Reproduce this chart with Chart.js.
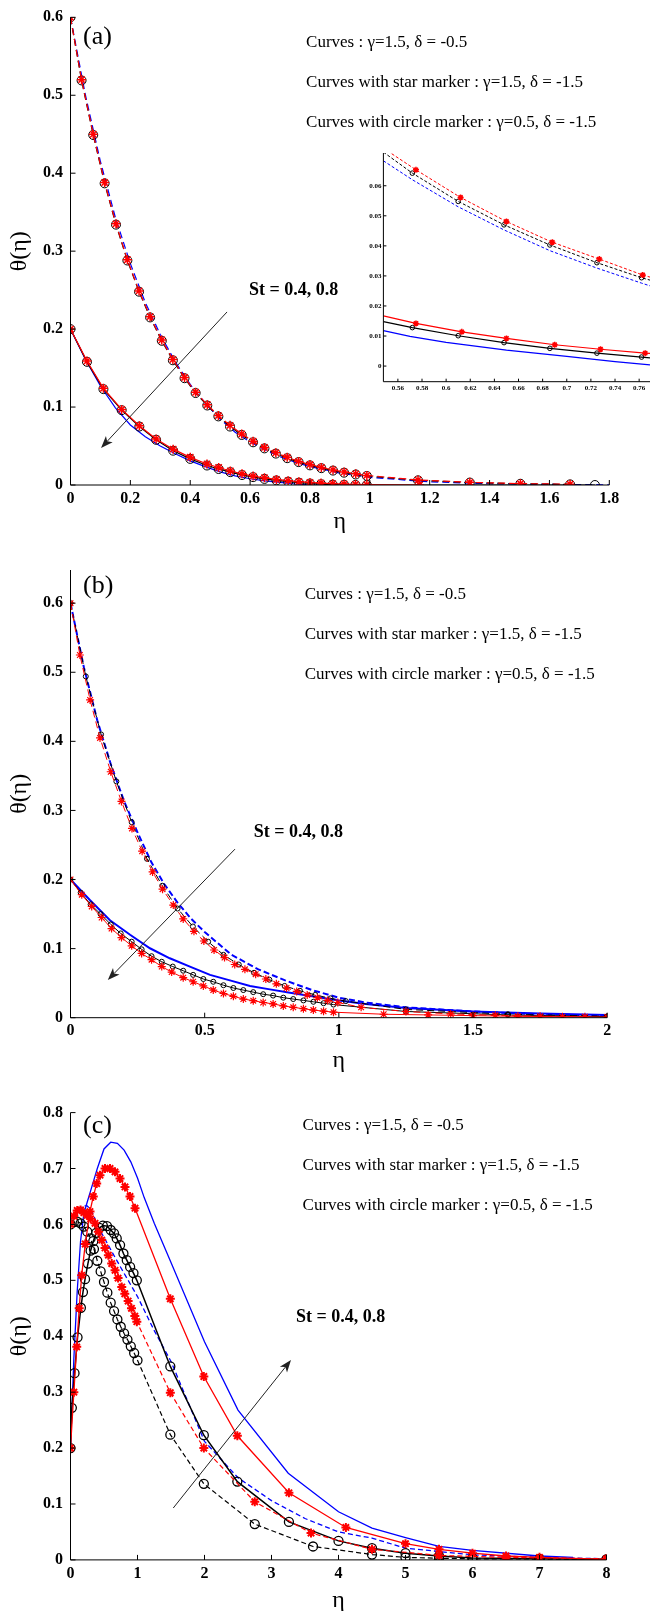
<!DOCTYPE html>
<html>
<head>
<meta charset="utf-8">
<script src="https://cdn.jsdelivr.net/npm/chart.js@4.4.1/dist/chart.umd.min.js"></script>
<style>
  html, body { margin: 0; padding: 0; background: #fff; }
  #page { position: relative; width: 650px; height: 1611px; overflow: hidden; background: #fff; }
  canvas { position: absolute; left: 0; }
</style>
</head>
<body>
<div id="page">
  <canvas id="chartA" width="650" height="540" style="top:0px"></canvas>
  <canvas id="chartInset" width="310" height="260" style="top:140px; left:340px"></canvas>
  <canvas id="chartB" width="650" height="540" style="top:540px"></canvas>
  <canvas id="chartC" width="650" height="531" style="top:1080px"></canvas>
</div>
<script>
// ---------- panel (a) ----------
const aXTicks = [0, 0.2, 0.4, 0.6, 0.8, 1, 1.2, 1.4, 1.6, 1.8];
const aYTicks = [0, 0.1, 0.2, 0.3, 0.4, 0.5, 0.6];

const aUpEta = [0, 0.037, 0.076, 0.114, 0.152, 0.190, 0.229, 0.266, 0.305, 0.342, 0.381, 0.418, 0.457, 0.494, 0.533, 0.572, 0.610, 0.648, 0.686, 0.724, 0.762, 0.800, 0.838, 0.877, 0.914, 0.953, 0.990, 1.161, 1.334, 1.503, 1.669];
const aUpRed = [0.600, 0.520, 0.450, 0.388, 0.335, 0.289, 0.249, 0.216, 0.186, 0.161, 0.138, 0.119, 0.103, 0.089, 0.0765, 0.0655, 0.0562, 0.0482, 0.0413, 0.0355, 0.0303, 0.0262, 0.0226, 0.0194, 0.0167, 0.0143, 0.0123, 0.0064, 0.0034, 0.0018, 0.0010];
const aUpBlack = [0.600, 0.519, 0.449, 0.387, 0.334, 0.288, 0.248, 0.215, 0.185, 0.160, 0.137, 0.118, 0.102, 0.088, 0.075, 0.0642, 0.0548, 0.0470, 0.0403, 0.0344, 0.0294, 0.0252, 0.0216, 0.0185, 0.0158, 0.0135, 0.0116, 0.0060, 0.0031, 0.0016, 0.0008];
const aUpBlueEta = [0, 0.05, 0.1, 0.15, 0.2, 0.25, 0.3, 0.35, 0.4, 0.45, 0.5, 0.55, 0.6, 0.65, 0.7, 0.75, 0.8, 0.9, 1.0, 1.2, 1.4, 1.6, 1.8];
const aUpBlue = [0.600, 0.500, 0.415, 0.343, 0.284, 0.234, 0.193, 0.158, 0.129, 0.105, 0.0845, 0.0676, 0.0553, 0.0450, 0.0363, 0.0293, 0.0236, 0.0152, 0.0098, 0.0040, 0.0016, 0.0007, 0.0003];

const aLowRedEta = [0, 0.055, 0.11, 0.171, 0.23, 0.286, 0.343, 0.4, 0.456, 0.495, 0.534, 0.573, 0.61, 0.648, 0.688, 0.727, 0.763, 0.8, 0.837, 0.876, 0.914, 0.952, 0.99, 1.166];
const aLowRed = [0.200, 0.159, 0.124, 0.097, 0.076, 0.059, 0.046, 0.0355, 0.027, 0.0225, 0.018, 0.0143, 0.0114, 0.0092, 0.0071, 0.0056, 0.0043, 0.0033, 0.0025, 0.0018, 0.0012, 0.0008, 0.0005, 0];
const aLowBlackEta = [0, 0.055, 0.11, 0.171, 0.23, 0.286, 0.343, 0.4, 0.456, 0.495, 0.534, 0.573, 0.61, 0.648, 0.688, 0.727, 0.763, 0.8, 0.837, 0.876, 0.914, 0.952, 0.99, 1.752];
const aLowBlack = [0.200, 0.158, 0.123, 0.096, 0.075, 0.058, 0.044, 0.0335, 0.025, 0.0205, 0.0165, 0.0128, 0.0101, 0.0078, 0.0059, 0.0043, 0.0030, 0.0019, 0.0011, 0.0005, 0.0002, 0.0001, 0, 0];
const aLowBlueEta = [0, 0.05, 0.1, 0.15, 0.2, 0.25, 0.3, 0.35, 0.4, 0.45, 0.5, 0.55, 0.6, 0.65, 0.7, 0.75, 0.8, 0.9, 1.0];
const aLowBlue = [0.200, 0.161, 0.127, 0.099, 0.077, 0.062, 0.050, 0.040, 0.031, 0.0235, 0.0168, 0.0118, 0.0080, 0.0053, 0.0033, 0.0013, 0.0002, 0, 0];

// ---------- inset of panel (a) ----------
const inXTicks = [0.56, 0.58, 0.6, 0.62, 0.64, 0.66, 0.68, 0.7, 0.72, 0.74, 0.76];
const inYTicks = [0, 0.01, 0.02, 0.03, 0.04, 0.05, 0.06];
const inUpRedEta = [0.548, 0.575, 0.612, 0.650, 0.688, 0.727, 0.763, 0.769];
const inUpRed = [0.0725, 0.0653, 0.0561, 0.0481, 0.0412, 0.0356, 0.0303, 0.0296];
const inUpBlackEta = [0.548, 0.572, 0.610, 0.648, 0.686, 0.725, 0.762, 0.769];
const inUpBlack = [0.0712, 0.0642, 0.0548, 0.0470, 0.0403, 0.0344, 0.0294, 0.0286];
const inUpBlueEta = [0.548, 0.572, 0.610, 0.648, 0.686, 0.725, 0.762, 0.769];
const inUpBlue = [0.0683, 0.0620, 0.0530, 0.0453, 0.0384, 0.0326, 0.0276, 0.0267];
const inLowRedEta = [0.548, 0.575, 0.613, 0.650, 0.690, 0.728, 0.765, 0.769];
const inLowRed = [0.0167, 0.0142, 0.0114, 0.0092, 0.0071, 0.0056, 0.0043, 0.0042];
const inLowBlackEta = [0.548, 0.572, 0.610, 0.648, 0.686, 0.725, 0.762, 0.769];
const inLowBlack = [0.0148, 0.0128, 0.0101, 0.0078, 0.0059, 0.0043, 0.0030, 0.0027];
const inLowBlueEta = [0.548, 0.570, 0.600, 0.650, 0.700, 0.740, 0.769];
const inLowBlue = [0.0118, 0.0099, 0.0079, 0.0053, 0.0032, 0.0015, 0.0004];

// ---------- panel (b) ----------
const bXTicks = [0, 0.5, 1, 1.5, 2];
const bYTicks = [0, 0.1, 0.2, 0.3, 0.4, 0.5, 0.6];
const bUpRedEta = [0, 0.035, 0.073, 0.11, 0.15, 0.19, 0.229, 0.267, 0.306, 0.343, 0.383, 0.42, 0.46, 0.497, 0.535, 0.574, 0.612, 0.65, 0.69, 0.728, 0.767, 0.805, 0.843, 0.882, 0.92, 0.958, 0.996, 1.083, 1.25, 1.417, 1.583, 1.75, 1.917];
const bUpRed = [0.600, 0.525, 0.460, 0.405, 0.356, 0.313, 0.274, 0.241, 0.211, 0.186, 0.163, 0.143, 0.125, 0.111, 0.098, 0.087, 0.077, 0.070, 0.063, 0.056, 0.049, 0.043, 0.038, 0.033, 0.029, 0.025, 0.022, 0.015, 0.009, 0.0055, 0.0035, 0.0022, 0.0014];
const bUpBlackEta = [0, 0.057, 0.114, 0.171, 0.228, 0.285, 0.342, 0.399, 0.456, 0.513, 0.57, 0.627, 0.684, 0.741, 0.798, 0.855, 0.912, 0.969, 1.026, 1.25, 1.63, 2.0];
const bUpBlack = [0.600, 0.494, 0.410, 0.342, 0.283, 0.230, 0.191, 0.158, 0.132, 0.110, 0.091, 0.077, 0.065, 0.055, 0.046, 0.039, 0.033, 0.028, 0.024, 0.012, 0.005, 0.002];
const bUpBlueEta = [0, 0.05, 0.1, 0.15, 0.2, 0.25, 0.3, 0.35, 0.4, 0.45, 0.5, 0.6, 0.7, 0.8, 0.9, 1.0, 1.1, 1.25, 1.5, 1.75, 2.0];
const bUpBlue = [0.600, 0.507, 0.430, 0.367, 0.313, 0.268, 0.226, 0.193, 0.166, 0.143, 0.124, 0.091, 0.070, 0.054, 0.040, 0.029, 0.022, 0.015, 0.009, 0.005, 0.003];
const bLowRedEta = [0, 0.042, 0.079, 0.116, 0.153, 0.19, 0.228, 0.265, 0.302, 0.34, 0.377, 0.42, 0.457, 0.495, 0.532, 0.57, 0.607, 0.644, 0.681, 0.718, 0.755, 0.793, 0.83, 0.868, 0.905, 0.943, 0.98, 1.167, 1.333, 1.5, 1.667, 1.833, 2.0];
const bLowRed = [0.200, 0.178, 0.161, 0.145, 0.129, 0.116, 0.104, 0.093, 0.084, 0.074, 0.066, 0.058, 0.052, 0.046, 0.040, 0.035, 0.031, 0.027, 0.0247, 0.022, 0.020, 0.017, 0.015, 0.013, 0.011, 0.0095, 0.008, 0.005, 0.004, 0.003, 0.002, 0.0015, 0.001];
const bLowBlackEta = [0, 0.038, 0.075, 0.112, 0.15, 0.187, 0.228, 0.265, 0.302, 0.34, 0.381, 0.42, 0.457, 0.495, 0.532, 0.57, 0.607, 0.644, 0.681, 0.718, 0.755, 0.793, 0.83, 0.868, 0.905, 0.943, 0.98, 1.25, 1.63, 2.0];
const bLowBlack = [0.200, 0.181, 0.164, 0.150, 0.135, 0.122, 0.110, 0.099, 0.089, 0.081, 0.074, 0.068, 0.062, 0.056, 0.052, 0.047, 0.043, 0.040, 0.037, 0.034, 0.032, 0.029, 0.027, 0.025, 0.023, 0.021, 0.019, 0.009, 0.004, 0.0015];
const bLowBlueEta = [0, 0.073, 0.147, 0.222, 0.296, 0.37, 0.445, 0.52, 0.594, 0.669, 0.743, 0.818, 0.9, 1.0, 1.1, 1.25, 1.5, 1.75, 2.0];
const bLowBlue = [0.200, 0.170, 0.141, 0.120, 0.1005, 0.086, 0.074, 0.062, 0.054, 0.046, 0.041, 0.036, 0.031, 0.025, 0.020, 0.014, 0.009, 0.006, 0.004];

// ---------- panel (c) ----------
const cXTicks = [0, 1, 2, 3, 4, 5, 6, 7, 8];
const cYTicks = [0, 0.1, 0.2, 0.3, 0.4, 0.5, 0.6, 0.7, 0.8];
const cBlueSolidEta = [0, 0.05, 0.1, 0.15, 0.2, 0.25, 0.3, 0.4, 0.5, 0.6, 0.7, 0.8, 0.9, 1.0, 1.1, 1.25, 1.5, 2.0, 2.5, 3.25, 4.0, 4.5, 5.0, 5.5, 6.0, 7.0, 7.5];
const cBlueSolid = [0.200, 0.360, 0.480, 0.570, 0.620, 0.640, 0.660, 0.700, 0.735, 0.747, 0.745, 0.733, 0.712, 0.683, 0.648, 0.602, 0.532, 0.390, 0.268, 0.155, 0.086, 0.057, 0.040, 0.024, 0.017, 0.007, 0.0046];
const cBlueDashEta = [0, 0.05, 0.1, 0.15, 0.2, 0.25, 0.3, 0.35, 0.4, 0.5, 0.6, 0.75, 1.0, 1.25, 1.5, 2.0, 2.5, 3.0, 3.5, 4.0, 4.5, 5.0, 5.5, 6.0, 7.0, 8.0];
const cBlueDash = [0.600, 0.612, 0.622, 0.630, 0.633, 0.633, 0.627, 0.615, 0.598, 0.577, 0.555, 0.523, 0.471, 0.410, 0.355, 0.212, 0.147, 0.106, 0.074, 0.050, 0.039, 0.021, 0.015, 0.009, 0.0045, 0.002];
const cRedSolidEta = [0, 0.05, 0.093, 0.13, 0.167, 0.22, 0.291, 0.34, 0.391, 0.44, 0.515, 0.59, 0.664, 0.739, 0.813, 0.888, 0.963, 1.49, 1.99, 2.49, 3.26, 4.11, 5.0, 5.5, 6.0, 6.5, 7.0, 8.0];
const cRedSolid = [0.200, 0.300, 0.381, 0.450, 0.509, 0.565, 0.623, 0.650, 0.673, 0.688, 0.700, 0.700, 0.694, 0.682, 0.667, 0.650, 0.629, 0.467, 0.328, 0.222, 0.120, 0.058, 0.029, 0.019, 0.012, 0.007, 0.0046, 0.001];
const cRedDashEta = [0, 0.05, 0.1, 0.15, 0.2, 0.25, 0.3, 0.366, 0.416, 0.466, 0.515, 0.565, 0.615, 0.665, 0.71, 0.765, 0.81, 0.86, 0.91, 0.96, 0.99, 1.49, 1.99, 2.75, 3.59, 4.5, 5.5, 6.5, 8.0];
const cRedDash = [0.600, 0.615, 0.625, 0.626, 0.621, 0.616, 0.610, 0.602, 0.587, 0.572, 0.558, 0.545, 0.530, 0.518, 0.504, 0.488, 0.476, 0.463, 0.450, 0.436, 0.426, 0.299, 0.200, 0.104, 0.048, 0.019, 0.008, 0.0045, 0.002];
const cBlackDashEta = [0, 0.05, 0.1, 0.15, 0.2, 0.25, 0.3, 0.35, 0.4, 0.45, 0.5, 0.55, 0.6, 0.65, 0.7, 0.75, 0.8, 0.85, 0.9, 0.95, 1.0, 1.49, 1.99, 2.75, 3.62, 4.5, 5.0, 5.5, 6.0, 7.0, 8.0];
const cBlackDash = [0.600, 0.604, 0.605, 0.602, 0.596, 0.587, 0.575, 0.556, 0.535, 0.516, 0.497, 0.478, 0.460, 0.445, 0.430, 0.417, 0.405, 0.394, 0.382, 0.370, 0.357, 0.224, 0.136, 0.064, 0.024, 0.0096, 0.0045, 0.003, 0.002, 0.0015, 0.001];
const cBlackSolidEta = [0, 0.02, 0.06, 0.105, 0.155, 0.186, 0.217, 0.26, 0.3, 0.34, 0.384, 0.433, 0.483, 0.545, 0.6, 0.65, 0.69, 0.74, 0.79, 0.84, 0.89, 0.94, 0.99, 1.49, 1.99, 2.49, 3.26, 4.0, 4.5, 5.0, 5.5, 6.0, 7.0, 8.0];
const cBlackSolid = [0.200, 0.272, 0.334, 0.398, 0.451, 0.479, 0.502, 0.530, 0.553, 0.570, 0.585, 0.594, 0.598, 0.597, 0.590, 0.584, 0.575, 0.563, 0.548, 0.536, 0.524, 0.513, 0.500, 0.346, 0.223, 0.140, 0.068, 0.034, 0.021, 0.012, 0.007, 0.0032, 0.002, 0.001];

// ---------- texts ----------
const legendLines = ['Curves : \u03b3=1.5, \u03b4 = -0.5',
                     'Curves with star marker : \u03b3=1.5, \u03b4 = -1.5',
                     'Curves with circle marker : \u03b3=0.5, \u03b4 = -1.5'];
const stText = 'St = 0.4, 0.8';

const RED = '#ff0000', BLUE = '#0000ff', BLACK = '#000000';
const SERIF = '"Liberation Serif", "DejaVu Serif", serif';

function pts(xs, ys) {
    return xs.map((x, i) => ({ x: x, y: ys[i] }));
}

// one curve; marker = {style, r, w} or null
function curve(xs, ys, color, dash, width, marker, skipEnds) {
    const ds = {
        data: pts(xs, ys),
        borderColor: color,
        borderWidth: width,
        borderDash: dash || [],
        tension: 0,
        fill: false,
        clip: 0,
        pointRadius: 0,
        pointHoverRadius: 0
    };
    if (marker) {
        const last = xs.length - 1;
        ds.pointStyle = marker.style;
        ds.pointRadius = skipEnds ? (ctx => (ctx.dataIndex === 0 || ctx.dataIndex === last) ? 0 : marker.r) : marker.r;
        ds.pointBorderColor = color;
        ds.pointBorderWidth = marker.w;
        ds.pointBackgroundColor = 'rgba(0,0,0,0)';
    }
    return ds;
}

function drawArrow(ctx, x1, y1, x2, y2) {
    const ang = Math.atan2(y2 - y1, x2 - x1);
    const len = 13, spread = 0.36, back = 9;
    ctx.beginPath();
    ctx.moveTo(x1, y1);
    ctx.lineTo(x2 - back * Math.cos(ang), y2 - back * Math.sin(ang));
    ctx.stroke();
    ctx.beginPath();
    ctx.moveTo(x2, y2);
    ctx.lineTo(x2 - len * Math.cos(ang - spread), y2 - len * Math.sin(ang - spread));
    ctx.lineTo(x2 - back * Math.cos(ang), y2 - back * Math.sin(ang));
    ctx.lineTo(x2 - len * Math.cos(ang + spread), y2 - len * Math.sin(ang + spread));
    ctx.closePath();
    ctx.fill();
}

// axes lines, inward ticks, titles, notes and arrow
function makeDecor(cfg) {
    return {
        id: 'decor',
        afterDraw(chart) {
            const { ctx, chartArea: ca, scales: { x, y } } = chart;
            ctx.save();
            ctx.strokeStyle = '#000';
            ctx.lineWidth = 1;
            ctx.beginPath();
            ctx.moveTo(ca.left, ca.top);
            ctx.lineTo(ca.left, ca.bottom);
            ctx.lineTo(ca.right, ca.bottom);
            ctx.stroke();
            ctx.beginPath();
            x.ticks.forEach(t => {
                const px = x.getPixelForValue(t.value);
                ctx.moveTo(px, ca.bottom);
                ctx.lineTo(px, ca.bottom - cfg.tick);
            });
            y.ticks.forEach(t => {
                const py = y.getPixelForValue(t.value);
                ctx.moveTo(ca.left, py);
                ctx.lineTo(ca.left + cfg.tick, py);
            });
            ctx.stroke();

            ctx.fillStyle = '#000';
            if (cfg.xTitle) {
                ctx.font = '24px ' + SERIF;
                ctx.textAlign = 'center';
                ctx.textBaseline = 'middle';
                ctx.fillText('\u03b7', (ca.left + ca.right) / 2, ca.bottom + cfg.xTitle);
                ctx.save();
                ctx.translate(20, (ca.top + ca.bottom) / 2);
                ctx.rotate(-Math.PI / 2);
                ctx.fillText('\u03b8(\u03b7)', 0, 0);
                ctx.restore();
            }
            (cfg.notes || []).forEach(n => {
                ctx.font = n.font;
                ctx.textAlign = 'left';
                ctx.textBaseline = 'middle';
                ctx.fillText(n.text, x.getPixelForValue(n.x), y.getPixelForValue(n.y));
            });
            if (cfg.arrow) {
                const a = cfg.arrow;
                ctx.strokeStyle = '#222';
                ctx.fillStyle = '#222';
                ctx.lineWidth = 1;
                drawArrow(ctx, x.getPixelForValue(a[0]), y.getPixelForValue(a[1]),
                          x.getPixelForValue(a[2]), y.getPixelForValue(a[3]));
            }
            ctx.restore();
        }
    };
}

function axis(min, max, ticks, font, isX, size, pad) {
    return {
        type: 'linear',
        min: min,
        max: max,
        grid: { display: false, drawTicks: false },
        border: { display: false },
        afterBuildTicks: s => { s.ticks = ticks.map(v => ({ value: v })); },
        afterFit: s => { if (isX) { s.height = size; } else { s.width = size; } },
        ticks: { font: font, color: '#000', padding: pad, autoSkip: false, maxRotation: 0, minRotation: 0,
                 callback: v => String(v) }
    };
}

function buildChart(id, o) {
    return new Chart(document.getElementById(id), {
        type: 'line',
        data: { datasets: o.datasets },
        options: {
            responsive: false,
            animation: false,
            events: [],
            layout: { padding: { top: o.top, right: o.right, left: 0, bottom: 0 } },
            plugins: { legend: { display: false }, tooltip: { enabled: false } },
            scales: {
                x: axis(o.x[0], o.x[1], o.x[2], o.font, true, o.xHeight, o.xPad),
                y: axis(o.y[0], o.y[1], o.y[2], o.font, false, o.yWidth, o.yPad)
            }
        },
        plugins: [makeDecor(o.decor)]
    });
}

function panelNotes(label, lx, ly, legX, legY, stX, stY) {
    const notes = [{ text: label, x: lx, y: ly, font: '26px ' + SERIF }];
    legendLines.forEach((t, i) => notes.push({ text: t, x: legX, y: legY[i], font: '17px ' + SERIF }));
    notes.push({ text: stText, x: stX, y: stY, font: 'bold 18px ' + SERIF });
    return notes;
}

const tickFont = { family: SERIF, size: 16, weight: 'bold' };
const dashA = [7, 4];

// ---- (a)
const circA = { style: 'circle', r: 4.5, w: 1 };
const starA = { style: 'star', r: 4.5, w: 1.5 };
buildChart('chartA', {
    datasets: [
        curve(aUpEta, aUpRed, RED, dashA, 1.2, starA),
        curve(aLowRedEta, aLowRed, RED, null, 1.2, starA),
        curve(aUpEta, aUpBlack, BLACK, dashA, 1.2, circA),
        curve(aLowBlackEta, aLowBlack, BLACK, null, 1.2, circA),
        curve(aUpBlueEta, aUpBlue, BLUE, dashA, 1.2, null),
        curve(aLowBlueEta, aLowBlue, BLUE, null, 1.2, null)
    ],
    x: [0, 1.8, aXTicks], y: [0, 0.6, aYTicks],
    font: tickFont, top: 17.3, right: 40.7, xHeight: 55, yWidth: 70.5, xPad: 4, yPad: 7.5,
    decor: {
        tick: 5, xTitle: 37,
        notes: panelNotes('(a)', 0.042, 0.575, 0.787, [0.5675, 0.5157, 0.4645], 0.596, 0.250),
        arrow: [0.523, 0.222, 0.102, 0.0475]
    }
});

// ---- inset
const circIn = { style: 'circle', r: 2.3, w: 1 };
const starIn = { style: 'star', r: 3, w: 1.5 };
const dashIn = [3, 2];
buildChart('chartInset', {
    datasets: [
        curve(inUpRedEta, inUpRed, RED, dashIn, 1, starIn, true),
        curve(inLowRedEta, inLowRed, RED, null, 1.2, starIn, true),
        curve(inUpBlackEta, inUpBlack, BLACK, dashIn, 1, circIn, true),
        curve(inLowBlackEta, inLowBlack, BLACK, null, 1.2, circIn, true),
        curve(inUpBlueEta, inUpBlue, BLUE, dashIn, 1, null),
        curve(inLowBlueEta, inLowBlue, BLUE, null, 1.2, null)
    ],
    x: [0.548, 0.769, inXTicks], y: [-0.0052, 0.0709, inYTicks],
    font: { family: SERIF, size: 7, weight: 'bold' }, top: 13, right: 0, xHeight: 18.3, yWidth: 43.4, xPad: 2, yPad: 2,
    decor: { tick: 3 }
});

// ---- (b)
const circB = { style: 'circle', r: 2.5, w: 1 };
const starB = { style: 'star', r: 4, w: 1.2 };
buildChart('chartB', {
    datasets: [
        curve(bUpRedEta, bUpRed, RED, dashA, 1, starB),
        curve(bLowRedEta, bLowRed, RED, null, 1, starB),
        curve(bUpBlackEta, bUpBlack, BLACK, dashA, 1, circB),
        curve(bLowBlackEta, bLowBlack, BLACK, null, 1, circB),
        curve(bUpBlueEta, bUpBlue, BLUE, [6, 3], 2, null),
        curve(bLowBlueEta, bLowBlue, BLUE, null, 2, null)
    ],
    x: [0, 2, bXTicks], y: [0, 0.648, bYTicks],
    font: tickFont, top: 30, right: 42.8, xHeight: 62.3, yWidth: 70.5, xPad: 4, yPad: 7.5,
    decor: {
        tick: 5, xTitle: 43,
        notes: panelNotes('(b)', 0.047, 0.624, 0.873, [0.612, 0.554, 0.496], 0.683, 0.269),
        arrow: [0.613, 0.244, 0.139, 0.0546]
    }
});

// ---- (c)
const circC = { style: 'circle', r: 4.5, w: 1.3 };
const starC = { style: 'star', r: 4.5, w: 2 };
buildChart('chartC', {
    datasets: [
        curve(cRedSolidEta, cRedSolid, RED, null, 1.3, starC),
        curve(cRedDashEta, cRedDash, RED, [5, 3], 1.2, starC),
        curve(cBlackSolidEta, cBlackSolid, BLACK, null, 1.5, circC),
        curve(cBlackDashEta, cBlackDash, BLACK, [5, 3], 1.2, circC),
        curve(cBlueSolidEta, cBlueSolid, BLUE, null, 1.3, null),
        curve(cBlueDashEta, cBlueDash, BLUE, [5, 3], 1.3, null)
    ],
    x: [0, 8, cXTicks], y: [0, 0.8, cYTicks],
    font: tickFont, top: 32.6, right: 43.5, xHeight: 51.1, yWidth: 70.5, xPad: 4, yPad: 7.5,
    decor: {
        tick: 5, xTitle: 41,
        notes: panelNotes('(c)', 0.187, 0.776, 3.464, [0.776, 0.7045, 0.633], 3.366, 0.4334),
        arrow: [1.534, 0.0928, 3.291, 0.3575]
    }
});
</script>
</body>
</html>
